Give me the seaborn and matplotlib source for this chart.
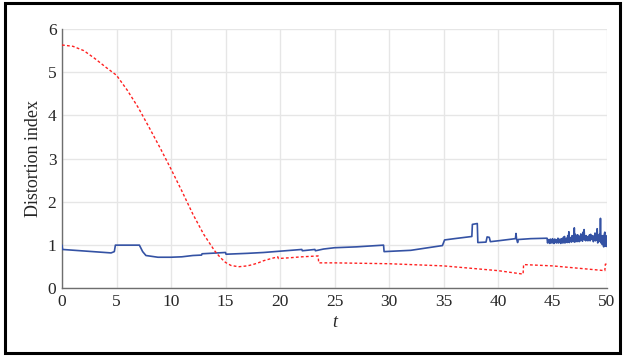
import numpy as np
import pandas as pd
import matplotlib
matplotlib.use("Agg")
import matplotlib.pyplot as plt
import seaborn as sns
from matplotlib.patches import Rectangle

# Distortion index of the dashed (reference) trajectory
red_t = [0, 1, 2, 3, 4, 5, 6, 7, 8, 9, 10, 11, 12, 13, 14, 14.5, 15, 15.5,
         16.2, 17, 17.5, 18, 18.5, 19.2, 19.8, 19.85, 21, 22, 23.5, 23.55,
         25, 30, 35, 40, 42.3, 42.35, 45, 49.8, 49.85, 50]
red_v = [5.63, 5.60, 5.50, 5.32, 5.12, 4.93, 4.58, 4.18, 3.72, 3.25, 2.76,
         2.25, 1.72, 1.25, 0.87, 0.72, 0.60, 0.53, 0.50, 0.52, 0.55, 0.59,
         0.64, 0.69, 0.73, 0.69, 0.71, 0.73, 0.75, 0.59, 0.59, 0.57, 0.52,
         0.41, 0.33, 0.55, 0.52, 0.41, 0.56, 0.56]

# Distortion index of the solid trajectory (smooth part)
blue_t = [0, 0.05, 4.5, 4.8, 4.9, 7.1, 7.4, 7.7, 8.8, 10, 11, 12, 12.8, 12.85,
          15, 15.05, 17, 18.5, 20, 22, 22.05, 23.2, 23.25, 24, 25, 27, 29.5,
          29.55, 32, 34.9, 35.1, 36, 37.6, 37.65, 38.1, 38.15, 38.9, 39.0,
          39.2, 39.3, 40, 41.6, 41.65, 41.7, 41.8, 41.85, 43, 44.4]
blue_v = [1.00, 0.90, 0.82, 0.85, 1.00, 1.00, 0.85, 0.76, 0.72, 0.72, 0.73,
          0.76, 0.77, 0.80, 0.83, 0.79, 0.81, 0.83, 0.86, 0.90, 0.87, 0.90,
          0.87, 0.91, 0.94, 0.96, 1.00, 0.85, 0.88, 0.99, 1.12, 1.15, 1.20,
          1.48, 1.50, 1.06, 1.07, 1.19, 1.18, 1.08, 1.10, 1.15, 1.27, 1.15,
          1.06, 1.13, 1.15, 1.16]

# Oscillating tail of the solid trajectory, sampled every 0.05 from t = 44.5
tail_v = [1.16, 1.05, 1.13, 1.06, 1.12, 1.04, 1.14, 1.06, 1.11, 1.05,
          1.15, 1.06, 1.12, 1.04, 1.14, 1.07, 1.13, 1.05, 1.12, 1.06,
          1.16, 1.05, 1.14, 1.07, 1.12, 1.04, 1.15, 1.06, 1.13, 1.05,
          1.18, 1.06, 1.20, 1.05, 1.14, 1.08, 1.16, 1.06, 1.22, 1.07,
          1.31, 1.06, 1.18, 1.09, 1.14, 1.07, 1.22, 1.10, 1.18, 1.08,
          1.40, 1.07, 1.25, 1.10, 1.20, 1.08, 1.24, 1.12, 1.22, 1.08,
          1.18, 1.10, 1.26, 1.12, 1.20, 1.09, 1.30, 1.14, 1.36, 1.12,
          1.20, 1.10, 1.22, 1.12, 1.18, 1.10, 1.20, 1.12, 1.24, 1.10,
          1.25, 1.13, 1.20, 1.14, 1.22, 1.08, 1.18, 1.12, 1.28, 1.10,
          1.22, 1.12, 1.38, 1.05, 1.20, 1.08, 1.25, 1.10, 1.62, 1.05,
          1.20, 1.02, 1.22, 1.00, 0.96, 1.25, 1.30, 0.98, 1.22, 0.97,
          1.15]
tail_t = [round(44.5 + 0.05 * i, 3) for i in range(len(tail_v))]

x_ticks = [0, 5, 10, 15, 20, 25, 30, 35, 40, 45, 50]
y_ticks = [0, 1, 2, 3, 4, 5, 6]

red_df = pd.DataFrame({"t": red_t, "value": red_v})
blue_df = pd.DataFrame({"t": blue_t + tail_t, "value": blue_v + tail_v})

sns.set_theme(style="whitegrid")
plt.rcParams["font.family"] = ["Liberation Serif", "DejaVu Serif"]

fig = plt.figure(figsize=(6.25, 3.56), dpi=100)
ax = fig.add_axes([0.0992, 0.19, 0.872, 0.7285])

sns.lineplot(data=blue_df, x="t", y="value", ax=ax, color="#3452a4",
             linewidth=1.2, sort=False, estimator=None, zorder=3)
sns.lineplot(data=red_df, x="t", y="value", ax=ax, color="#ff2020",
             linewidth=1.0, linestyle=(0, (2.0, 1.6)), sort=False,
             estimator=None, zorder=4)

ax.set_xlim(0, 50)
ax.set_ylim(0, 6)
ax.set_xticks(x_ticks)
ax.set_yticks(y_ticks)
ax.set_xticklabels([str(v) for v in x_ticks], fontsize=12.5, color="#262626")
ax.set_yticklabels([str(v) for v in y_ticks], fontsize=12.5, color="#262626")
ax.set_xlabel("t", fontsize=13, style="italic", color="#262626", labelpad=3)
ax.set_ylabel("Distortion index", fontsize=13, color="#262626", labelpad=4)

ax.set_facecolor("white")
ax.grid(True, color="#e6e6e6", linewidth=1.0)
for side in ["top", "right"]:
    ax.spines[side].set_visible(False)
for side in ["left", "bottom"]:
    ax.spines[side].set_color("#6e6e6e")
    ax.spines[side].set_linewidth(1.0)
ax.tick_params(axis="both", direction="in", length=3.5, width=1.0,
               color="#6e6e6e", pad=4)

# frame around the whole figure
fig.patches.append(Rectangle((0.008, 0.008), 0.984, 0.984,
                             transform=fig.transFigure, fill=False,
                             edgecolor="black", linewidth=2.2))

fig.savefig("out.png", dpi=100)
